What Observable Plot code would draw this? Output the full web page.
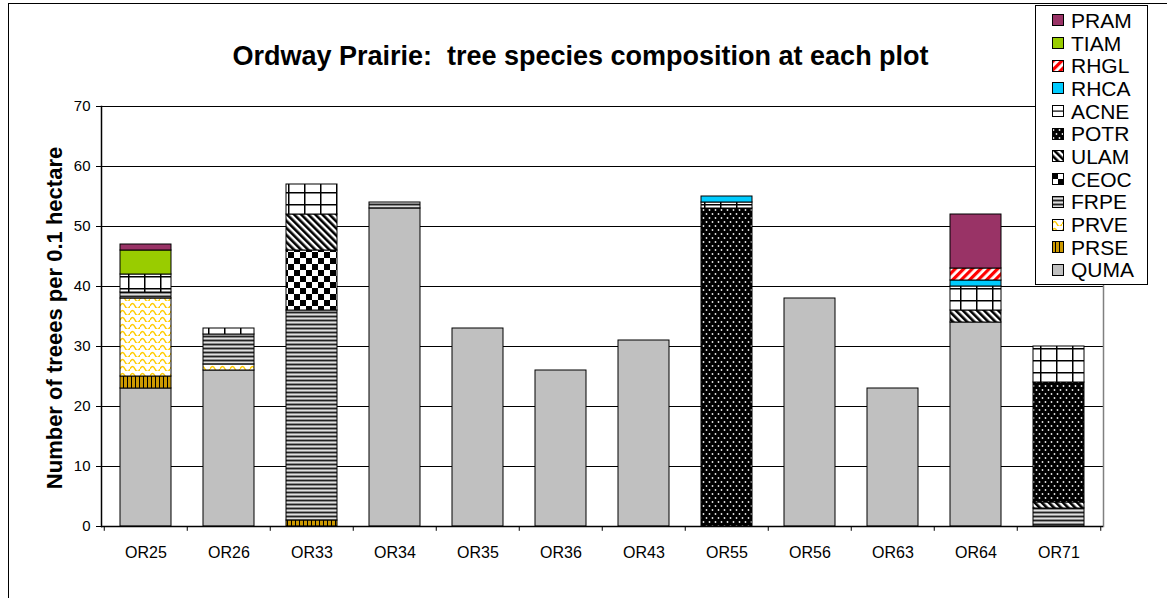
<!DOCTYPE html>
<html>
<head>
<meta charset="utf-8">
<script src="https://cdn.jsdelivr.net/npm/d3@7"></script>
<script src="https://cdn.jsdelivr.net/npm/@observablehq/plot@0.6"></script>
<style>
  html, body { margin: 0; padding: 0; background: #fff; overflow: hidden; }
  body { width: 1167px; height: 598px; position: relative; font-family: "Liberation Sans", Arial, sans-serif; }
  #frame { position: absolute; left: 8px; top: 3px; width: 1300px; height: 700px; border: 1px solid #000; box-sizing: border-box; }
  #chart { position: absolute; left: 0; top: 0; }
  #title { position: absolute; left: 0; width: 1161px; top: 41px; text-align: center; font: bold 27px "Liberation Sans", Arial, sans-serif; color: #000; white-space: pre; }
  #ytitle { position: absolute; left: 55px; top: 318px; transform: translate(-50%, -50%) rotate(-90deg); font: bold 22px "Liberation Sans", Arial, sans-serif; white-space: nowrap; }
  #legend { position: absolute; left: 1035px; top: 5px; width: 113px; height: 280px; border: 1px solid #000; background: #fff; box-sizing: border-box; padding-top: 3px; }
  .li { height: 22.7px; display: flex; align-items: center; font: 21px "Liberation Sans", Arial, sans-serif; line-height: 1; }
  .li svg { margin-left: 16px; margin-right: 7px; flex: none; }
</style>
</head>
<body>
<svg width="0" height="0" style="position:absolute">
  <defs>
    <pattern id="p-PRSE" patternUnits="userSpaceOnUse" width="4" height="4">
      <rect width="4" height="4" fill="#CC9900"/>
      <rect x="3" width="1" height="4" fill="#000"/>
    </pattern>
    <pattern id="p-PRVE" patternUnits="userSpaceOnUse" width="10" height="7">
      <rect width="10" height="7" fill="#fff"/>
      <path d="M0,5 Q2.5,0 5,5 T10,5" fill="none" stroke="#FFCC00" stroke-width="1.5"/>
    </pattern>
    <pattern id="p-FRPE" patternUnits="userSpaceOnUse" width="4" height="4">
      <rect width="4" height="4" fill="#8c8c8c"/>
      <rect y="0" width="4" height="1" fill="#222"/>
      <rect y="2" width="4" height="1" fill="#e0e0e0"/>
    </pattern>
    <pattern id="p-CEOC" patternUnits="userSpaceOnUse" width="12" height="12">
      <rect width="12" height="12" fill="#fff"/>
      <rect width="6" height="6" fill="#000"/>
      <rect x="6" y="6" width="6" height="6" fill="#000"/>
    </pattern>
    <pattern id="p-ULAM" patternUnits="userSpaceOnUse" width="5" height="5" patternTransform="rotate(-45)">
      <rect width="5" height="5" fill="#fff"/>
      <rect width="2.6" height="5" fill="#000"/>
    </pattern>
    <pattern id="p-POTR" patternUnits="userSpaceOnUse" width="6" height="8">
      <rect width="6" height="8" fill="#000"/>
      <circle cx="1.5" cy="2" r="0.9" fill="#e8e8e8"/>
      <circle cx="4.5" cy="6" r="0.9" fill="#e8e8e8"/>
    </pattern>
    <pattern id="p-ACNE" patternUnits="userSpaceOnUse" width="16" height="12">
      <rect width="16" height="12" fill="#fff"/>
      <rect x="0" width="1.5" height="12" fill="#000"/>
      <rect y="0" width="16" height="1.5" fill="#000"/>
    </pattern>
    <pattern id="p-ACNE-key" patternUnits="userSpaceOnUse" width="12" height="12">
      <rect width="12" height="12" fill="#fff"/>
      <rect y="5.5" width="12" height="1.2" fill="#000"/>
    </pattern>
    <pattern id="p-RHGL" patternUnits="userSpaceOnUse" width="6" height="6" patternTransform="rotate(45)">
      <rect width="6" height="6" fill="#fff"/>
      <rect width="3.2" height="6" fill="#FF0000"/>
    </pattern>
  </defs>
</svg>
<div id="frame"></div>
<div id="chart"></div>
<div id="title">Ordway Prairie:  tree species composition at each plot</div>
<div id="ytitle">Number of treees per 0.1 hectare</div>
<div id="legend"></div>
<script>
// ---- data ----
const plots = ["OR25","OR26","OR33","OR34","OR35","OR36","OR43","OR55","OR56","OR63","OR64","OR71"];
// stack order, bottom to top
const species = ["QUMA","PRSE","PRVE","FRPE","CEOC","ULAM","POTR","ACNE","RHCA","RHGL","TIAM","PRAM"];
const QUMA = [23, 26,  0, 53, 33, 26, 31,  0, 38, 23, 34,  0];
const PRSE = [ 2,  0,  1,  0,  0,  0,  0,  0,  0,  0,  0,  0];
const PRVE = [13,  1,  0,  0,  0,  0,  0,  0,  0,  0,  0,  0];
const FRPE = [ 1,  5, 35,  1,  0,  0,  0,  0,  0,  0,  0,  3];
const CEOC = [ 0,  0, 10,  0,  0,  0,  0,  0,  0,  0,  0,  0];
const ULAM = [ 0,  0,  6,  0,  0,  0,  0,  0,  0,  0,  2,  1];
const POTR = [ 0,  0,  0,  0,  0,  0,  0, 53,  0,  0,  0, 20];
const ACNE = [ 3,  1,  5,  0,  0,  0,  0,  1,  0,  0,  4,  6];
const RHCA = [ 0,  0,  0,  0,  0,  0,  0,  1,  0,  0,  1,  0];
const RHGL = [ 0,  0,  0,  0,  0,  0,  0,  0,  0,  0,  2,  0];
const TIAM = [ 4,  0,  0,  0,  0,  0,  0,  0,  0,  0,  0,  0];
const PRAM = [ 1,  0,  0,  0,  0,  0,  0,  0,  0,  0,  9,  0];
const yTicks = [0, 10, 20, 30, 40, 50, 60, 70];

const series = {QUMA, PRSE, PRVE, FRPE, CEOC, ULAM, POTR, ACNE, RHCA, RHGL, TIAM, PRAM};
const fills = {
  QUMA: "#C0C0C0", PRSE: "url(#p-PRSE)", PRVE: "url(#p-PRVE)", FRPE: "url(#p-FRPE)",
  CEOC: "url(#p-CEOC)", ULAM: "url(#p-ULAM)", POTR: "url(#p-POTR)", ACNE: "url(#p-ACNE)",
  RHCA: "#00CCFF", RHGL: "url(#p-RHGL)", TIAM: "#99CC00", PRAM: "#993366"
};
const keyFills = Object.assign({}, fills, {ACNE: "url(#p-ACNE-key)"});

const rows = [];
species.forEach(s => series[s].forEach((v, i) => { if (v > 0) rows.push({plot: plots[i], species: s, value: v}); }));

const step = (1103 - 101) / plots.length;

const chart = Plot.plot({
  width: 1167,
  height: 598,
  marginLeft: 101,
  marginRight: 64,
  marginTop: 106,
  marginBottom: 72,
  style: {fontFamily: "'Liberation Sans', Arial, sans-serif", background: "transparent", overflow: "visible"},
  x: {domain: plots, paddingInner: 0.39, paddingOuter: 0.195, label: null},
  y: {domain: [0, 70], label: null},
  color: {domain: species, range: species.map(s => fills[s])},
  marks: [
    Plot.ruleY(yTicks.filter(d => d > 0), {stroke: "#000", strokeWidth: 1}),
    Plot.barY(rows, Plot.stackY({x: "plot", y: "value", fill: "species", stroke: "#000", strokeWidth: 1})),
    Plot.frame({anchor: "right", stroke: "#808080", strokeWidth: 1.5}),
    Plot.frame({anchor: "left", stroke: "#000", strokeWidth: 1.5}),
    Plot.ruleY([0], {stroke: "#000", strokeWidth: 1.5}),
    Plot.ruleX(plots, {x: d => d, y1: 0, y2: -0.8, dx: -step / 2, stroke: "#000"}),
    Plot.ruleX(plots.slice(-1), {x: d => d, y1: 0, y2: -0.8, dx: step / 2, stroke: "#000"}),
    Plot.axisY({ticks: yTicks, tickSize: 5, tickPadding: 6, fontSize: 15, label: null}),
    Plot.axisX({tickSize: 0, tickPadding: 20, fontSize: 16, label: null})
  ]
});
document.getElementById("chart").appendChild(chart);

// legend (top to bottom = reverse stack order)
const legend = document.getElementById("legend");
species.slice().reverse().forEach(s => {
  const div = document.createElement("div");
  div.className = "li";
  div.innerHTML = `<svg width="12" height="12"><rect x="0.5" y="0.5" width="11" height="11" fill="${keyFills[s]}" stroke="#000" stroke-width="1"/></svg><span>${s}</span>`;
  legend.appendChild(div);
});
</script>
</body>
</html>
